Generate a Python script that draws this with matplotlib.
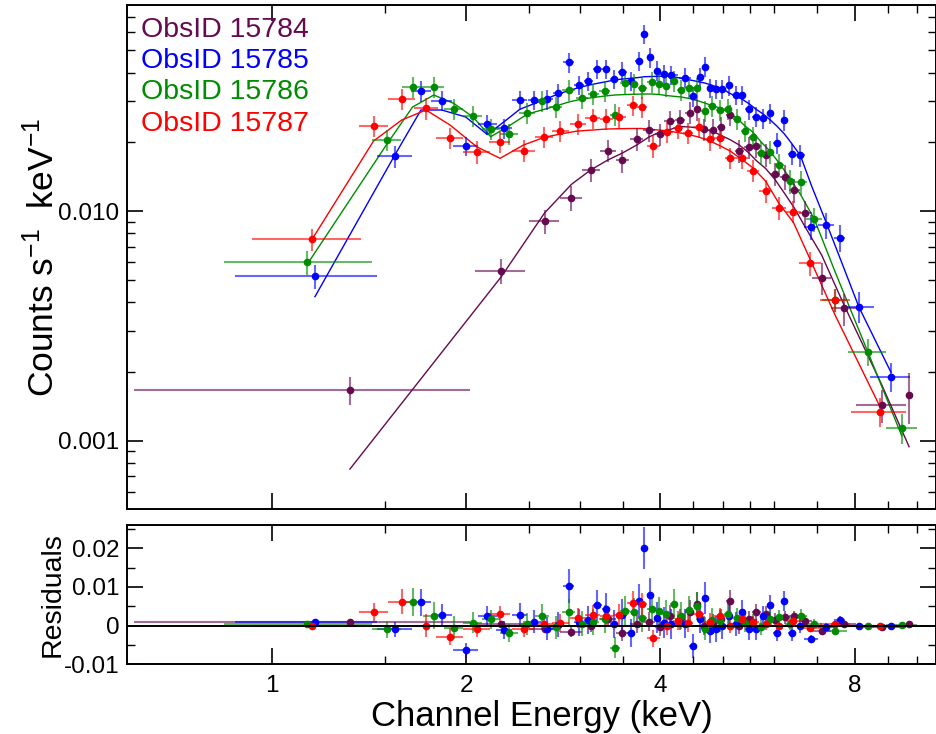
import matplotlib
matplotlib.use('Agg')
import matplotlib.pyplot as plt
from matplotlib.ticker import FixedLocator, NullFormatter, LogLocator, MultipleLocator
from matplotlib.colors import to_rgba

plt.rcParams['font.family'] = ['Liberation Sans', 'DejaVu Sans']
plt.rcParams['mathtext.fontset'] = 'custom'
plt.rcParams['mathtext.rm'] = 'Liberation Sans'
plt.rcParams['mathtext.it'] = 'Liberation Sans:italic'
plt.rcParams['mathtext.bf'] = 'Liberation Sans:bold'

# ---------------- data: ObsID 15784 (purple) ----------------
E_p = [1.322, 2.266, 2.646, 2.913, 3.120, 3.319, 3.494, 3.676, 3.840, 3.993, 4.133, 4.290, 4.440, 4.565, 4.680,
       4.830, 4.970, 5.130, 5.300, 5.480, 5.630, 5.820, 6.020, 6.230, 6.450, 6.710, 7.110, 7.700, 8.810, 9.710]
dE_p = [0.71, 0.2, 0.145, 0.115, 0.1, 0.09, 0.085, 0.085, 0.08, 0.075, 0.075, 0.075, 0.07, 0.06, 0.065,
        0.07, 0.075, 0.08, 0.085, 0.085, 0.09, 0.1, 0.1, 0.11, 0.12, 0.15, 0.25, 0.34, 0.78, 0.1]
rate_p = [0.00166, 0.0055, 0.00905, 0.01143, 0.0151, 0.0183, 0.0166, 0.0206, 0.0225, 0.0216, 0.0246, 0.0249, 0.0268,
          0.0277, 0.0227, 0.0226, 0.0231, 0.0262, 0.0183, 0.0190, 0.0192, 0.0176, 0.0145, 0.0141, 0.01234, 0.0098,
          0.00513, 0.00377, 0.00143, 0.00158]
err_p = [0.00023, 0.0007, 0.0011, 0.0014, 0.0017, 0.002, 0.0019, 0.0023, 0.0025, 0.0024, 0.0027, 0.0027, 0.0029,
         0.003, 0.0025, 0.0025, 0.0025, 0.0028, 0.0021, 0.0021, 0.0021, 0.002, 0.0017, 0.0017, 0.0015, 0.0013,
         0.0008, 0.0006, 0.00023, 0.0004]
model_p = [0.000753, 0.00516, 0.0098, 0.01307, 0.0151, 0.0167, 0.01789, 0.01938, 0.0210, 0.02208, 0.0226, 0.02333,
           0.02322, 0.02298, 0.0227, 0.02219, 0.02132, 0.02044, 0.01938, 0.01794, 0.01659, 0.01533, 0.01371,
           0.01192, 0.01031, 0.00848, 0.00643, 0.0039, 0.00175, 0.000942]
resid_p = [0.0009, 0.0003, -0.0008, -0.0016, 0, 0.0016, -0.002, 0.0004, 0.001, -0.0003, 0.0026, 0.0016, 0.0036,
           0.0056, 0, 0.0004, 0.0018, 0.0064, 0, 0.0017, 0.0034, 0.003, 0.0015, 0.0022, 0.0024, 0.0011, -0.0015,
           0.0004, -0.0004, 0.0005]

# ---------------- data: ObsID 15785 (blue) ----------------
E_b = [1.167, 1.551, 1.703, 1.834, 1.998, 2.158, 2.293, 2.423, 2.553, 2.671, 2.778, 2.885, 2.990, 3.093, 3.196,
       3.291, 3.393, 3.494, 3.598, 3.700, 3.778, 3.861, 3.952, 4.049, 4.155, 4.367, 4.490, 4.600, 4.685, 4.774,
       4.880, 4.990, 5.110, 5.230, 5.350, 5.480, 5.620, 5.770, 5.910, 6.060, 6.220, 6.390, 6.590, 6.850, 7.220,
       7.580, 8.120, 9.100]
dE_b = [0.29, 0.097, 0.06, 0.07, 0.09, 0.073, 0.066, 0.065, 0.062, 0.057, 0.053, 0.054, 0.052, 0.052, 0.05, 0.048,
        0.05, 0.052, 0.05, 0.045, 0.04, 0.043, 0.047, 0.05, 0.1, 0.1, 0.06, 0.05, 0.045, 0.05, 0.055, 0.055, 0.06,
        0.06, 0.065, 0.07, 0.07, 0.07, 0.07, 0.075, 0.08, 0.09, 0.12, 0.17, 0.2, 0.16, 0.45, 0.64]
rate_b = [0.00522, 0.01733, 0.0334, 0.0302, 0.0192, 0.0239, 0.0229, 0.0304, 0.0304, 0.0306, 0.0325, 0.0444, 0.0354,
          0.0368, 0.0415, 0.0414, 0.0376, 0.0404, 0.0368, 0.0449, 0.0588, 0.0466, 0.0408, 0.0394, 0.0390, 0.0381,
          0.0316, 0.0383, 0.0425, 0.0342, 0.0339, 0.0339, 0.0352, 0.0320, 0.0320, 0.0277, 0.0257, 0.0253, 0.0266,
          0.0198, 0.0249, 0.0177, 0.0175, 0.00855, 0.00866, 0.00765, 0.00384, 0.00190]
err_b = [0.00063, 0.0019, 0.0035, 0.003, 0.0019, 0.0024, 0.0023, 0.003, 0.003, 0.003, 0.0032, 0.0044, 0.0035, 0.0036,
         0.004, 0.004, 0.0037, 0.004, 0.0036, 0.0044, 0.0055, 0.0045, 0.004, 0.0039, 0.0038, 0.0037, 0.0031, 0.0037,
         0.0041, 0.0033, 0.0033, 0.0033, 0.0034, 0.0031, 0.0031, 0.0027, 0.0026, 0.0026, 0.0027, 0.0021, 0.0026,
         0.0019, 0.0019, 0.0011, 0.0011, 0.001, 0.00058, 0.00027]
model_b = [0.00424, 0.0175, 0.02753, 0.02753, 0.02566, 0.02153, 0.02453, 0.02773, 0.02938, 0.03092, 0.03231, 0.0334,
           0.03449, 0.03526, 0.03597, 0.03652, 0.03718, 0.03755, 0.03781, 0.03812, 0.03843, 0.0385, 0.03857, 0.03861,
           0.03857, 0.03755, 0.037, 0.03645, 0.03608, 0.03553, 0.03476, 0.03414, 0.03264, 0.03167, 0.03073, 0.02938,
           0.02781, 0.02644, 0.02502, 0.02344, 0.02171, 0.01967, 0.01745, 0.01298, 0.00896, 0.0063, 0.00382, 0.00199]
resid_b = [0.001, -0.001, 0.006, 0.0027, -0.0064, 0.0026, -0.0012, 0.0028, 0.001, -0.0008, 0.0002, 0.0102, 0.0009,
           0.0015, 0.0052, 0.0043, 0.0004, 0.0028, -0.0018, 0.0064, 0.0201, 0.0079, 0.002, 0.0008, 0.0004, 0.0005,
           -0.0053, 0.0018, 0.0072, -0.0013, -0.0009, -0.0002, 0.0026, 0.0003, 0.0035, -0.001, -0.001, 0.0024,
           0.0052, -0.002, 0.0064, -0.002, 0, -0.0034, -0.0003, 0.0014, 0, -0.0001]

# ---------------- data: ObsID 15786 (green) ----------------
E_g = [1.136, 1.507, 1.653, 1.783, 1.913, 2.048, 2.184, 2.330, 2.489, 2.622, 2.754, 2.885, 3.025, 3.150, 3.279,
       3.401, 3.527, 3.638, 3.750, 3.876, 3.986, 4.084, 4.195, 4.310, 4.435, 4.560, 4.685, 4.810, 4.950, 5.090,
       5.260, 5.410, 5.560, 5.730, 5.910, 6.110, 6.350, 6.600, 6.920, 7.460, 8.380, 9.460]
dE_g = [0.293, 0.077, 0.064, 0.065, 0.065, 0.068, 0.07, 0.076, 0.073, 0.066, 0.066, 0.066, 0.065, 0.063, 0.062,
        0.062, 0.06, 0.055, 0.06, 0.06, 0.052, 0.055, 0.057, 0.06, 0.063, 0.06, 0.062, 0.065, 0.07, 0.075, 0.08,
        0.075, 0.08, 0.085, 0.09, 0.1, 0.12, 0.14, 0.2, 0.33, 0.57, 0.52]
rate_g = [0.00598, 0.0204, 0.0346, 0.0346, 0.0277, 0.0259, 0.0227, 0.0216, 0.0268, 0.0301, 0.0284, 0.0336, 0.0312,
          0.0322, 0.0334, 0.0263, 0.0360, 0.0356, 0.0342, 0.0366, 0.0356, 0.0349, 0.0368, 0.0336, 0.0342, 0.0342,
          0.0273, 0.0286, 0.0275, 0.0279, 0.0251, 0.0223, 0.0209, 0.0179, 0.0181, 0.0159, 0.0135, 0.0134, 0.0092,
          0.0041, 0.00244, 0.00114]
err_g = [0.00069, 0.0022, 0.0036, 0.0036, 0.0029, 0.0027, 0.0024, 0.0023, 0.0028, 0.0031, 0.003, 0.0035, 0.0033,
         0.0034, 0.0035, 0.0028, 0.0037, 0.0037, 0.0036, 0.0038, 0.0037, 0.0036, 0.0038, 0.0035, 0.0036, 0.0036,
         0.0029, 0.003, 0.0029, 0.0029, 0.0026, 0.0024, 0.0022, 0.002, 0.002, 0.0018, 0.0016, 0.0016, 0.0011,
         0.00047, 0.00032, 0.00017]
model_g = [0.00588, 0.0195, 0.02837, 0.03199, 0.02944, 0.02573, 0.02106, 0.02344, 0.02644, 0.02753, 0.02865,
           0.02982, 0.03073, 0.0312, 0.03167, 0.03199, 0.03215, 0.03222, 0.03231, 0.03231, 0.03215, 0.03183,
           0.03158, 0.03136, 0.03089, 0.03027, 0.02952, 0.02879, 0.02808, 0.02698, 0.02532, 0.02344, 0.02208,
           0.01997, 0.01825, 0.01618, 0.01388, 0.01174, 0.00927, 0.00543, 0.00244, 0.00105]
resid_g = [0.0003, -0.001, 0.0062, 0.0026, -0.0005, 0.0008, 0.0016, -0.002, 0.0004, 0.0026, -0.0004, 0.0035, 0.0005,
           0.001, 0.0017, -0.0057, 0.0039, 0.0034, 0.0019, 0.0044, 0.0037, 0.0031, 0.0056, 0.0026, 0.004, 0.005,
           -0.0008, 0.0015, 0.0012, 0.003, 0.002, 0.0008, 0.0007, -0.0004, 0.0016, 0.0022, 0.0005, 0.0026, 0.0005,
           -0.0013, 0, 0.0001]

# ---------------- data: ObsID 15787 (red) ----------------
E_r = [1.153, 1.438, 1.590, 1.734, 1.889, 2.077, 2.258, 2.455, 2.645, 2.800, 2.978, 3.141, 3.298, 3.457, 3.622,
       3.744, 3.900, 4.089, 4.260, 4.420, 4.585, 4.770, 4.940, 5.130, 5.350, 5.570, 5.820, 6.100, 6.430, 6.820,
       7.460, 8.750]
dE_r = [0.22, 0.075, 0.076, 0.075, 0.09, 0.1, 0.085, 0.1, 0.085, 0.085, 0.085, 0.08, 0.078, 0.08, 0.07, 0.07, 0.09,
        0.09, 0.08, 0.08, 0.09, 0.09, 0.09, 0.1, 0.11, 0.12, 0.13, 0.15, 0.17, 0.27, 0.4, 0.87]
rate_r = [0.00753, 0.0234, 0.0307, 0.0280, 0.0208, 0.0181, 0.0199, 0.0183, 0.0211, 0.0223, 0.0240, 0.0253, 0.0252,
          0.0256, 0.0288, 0.0283, 0.0192, 0.0220, 0.0230, 0.0219, 0.0231, 0.0205, 0.0208, 0.0171, 0.0171, 0.0150,
          0.01225, 0.01031, 0.00993, 0.00592, 0.0041, 0.00134]
err_r = [0.0008, 0.0024, 0.0032, 0.003, 0.0022, 0.002, 0.0021, 0.002, 0.0022, 0.0023, 0.0025, 0.0026, 0.0026,
         0.0027, 0.003, 0.003, 0.0021, 0.0023, 0.0024, 0.0023, 0.0024, 0.0022, 0.0022, 0.0018, 0.0018, 0.0016,
         0.0014, 0.0012, 0.0011, 0.0007, 0.00048, 0.00019]
model_r = [0.00747, 0.02017, 0.0249, 0.02753, 0.02368, 0.01906, 0.01696, 0.01938, 0.02094, 0.02164, 0.0223,
           0.02252, 0.02275, 0.02282, 0.02287, 0.02287, 0.02263, 0.02236, 0.02196, 0.02153, 0.021, 0.02017,
           0.01928, 0.01825, 0.01676, 0.01539, 0.01351, 0.01083, 0.00891, 0.00618, 0.00352, 0.00141]
resid_r = [0, 0.0035, 0.0062, 0, -0.0029, -0.001, 0.003, -0.0009, 0.0005, 0.0007, 0.002, 0.0028, 0.0026, 0.0028,
           0.0059, 0.0055, -0.0033, -0.0002, 0.0013, 0.0006, 0.003, 0.001, 0.0024, 0, 0.0017, 0.001, 0.0003, 0,
           0.0012, -0.0006, 0.0004, 0]

labels = ['ObsID 15784', 'ObsID 15785', 'ObsID 15786', 'ObsID 15787']
colors = ['#660a4f', '#0000ff', '#008c00', '#ff0000']
series = [
    (E_p, dE_p, rate_p, err_p, model_p, resid_p),
    (E_b, dE_b, rate_b, err_b, model_b, resid_b),
    (E_g, dE_g, rate_g, err_g, model_g, resid_g),
    (E_r, dE_r, rate_r, err_r, model_r, resid_r),
]

x_major = [1, 2, 4, 8]
x_major_labels = ['1', '2', '4', '8']
x_minor = [1.5, 2.5, 3, 3.5, 4.5, 5, 5.5, 6, 7, 9, 10]

fig = plt.figure(figsize=(9.37, 7.34), dpi=100)
ax = fig.add_axes([0.13607, 0.30613, 0.86233, 0.68747])
axr = fig.add_axes([0.13607, 0.09496, 0.86233, 0.18978])

for (E, dE, rate, err, model, resid), col in zip(series, colors):
    ecol = to_rgba(col, 0.6)
    ax.errorbar(E, rate, xerr=dE, yerr=err, fmt='o', ms=4.5, color=col, mec=col,
                ecolor=ecol, elinewidth=1.5, capsize=0, zorder=3)
    ax.plot(E, model, color=col, lw=1.0, zorder=2)
    axr.errorbar(E, resid, xerr=dE, yerr=err, fmt='o', ms=4.5, color=col, mec=col,
                 ecolor=ecol, elinewidth=1.5, capsize=0, zorder=3)

axr.axhline(0, color='black', lw=1.4, zorder=4)

for a in (ax, axr):
    a.set_xscale('log')
    a.set_xlim(0.598, 10.67)
    a.xaxis.set_major_locator(FixedLocator(x_major))
    a.xaxis.set_minor_locator(FixedLocator(x_minor))
    a.xaxis.set_minor_formatter(NullFormatter())
    a.tick_params(which='both', direction='in', top=True, right=True, labelsize=17.5, pad=6)
    a.tick_params(which='major', length=11.5, width=1.2)
    a.tick_params(which='minor', length=5.5, width=1.0)
    for s in a.spines.values():
        s.set_linewidth(1.4)

ax.set_yscale('log')
ax.set_ylim(0.000503, 0.0791)
ax.set_yticks([0.001, 0.01], ['0.001', '0.010'])
ax.yaxis.set_minor_locator(LogLocator(base=10, subs=[2, 3, 4, 5, 6, 7, 8, 9], numticks=20))
ax.yaxis.set_minor_formatter(NullFormatter())
ax.set_xticks(x_major, [''] * 4)

axr.set_ylim(-0.00986, 0.026)
axr.set_yticks([-0.01, 0, 0.01, 0.02], ['-0.01', '0', '0.01', '0.02'])
axr.yaxis.set_minor_locator(MultipleLocator(0.005))
axr.set_xticks(x_major, x_major_labels)
axr.tick_params(axis='x', which='major', pad=8)

ax.set_ylabel(r'Counts s$^{\mathregular{-1}}$  keV$^{\mathregular{-1}}$', fontsize=25.5)
ax.yaxis.set_label_coords(-0.083, 0.5)
axr.set_ylabel('Residuals', fontsize=20.5)
axr.yaxis.set_label_coords(-0.076, 0.5)
axr.set_xlabel('Channel Energy (keV)', fontsize=25)
axr.xaxis.set_label_coords(0.513, -0.255)

ys = [0.9354, 0.8740, 0.8125, 0.7503]
for lab, col, yy in zip(labels, colors, ys):
    ax.text(0.0165, yy, lab, color=col, fontsize=20.5, transform=ax.transAxes,
            ha='left', va='baseline')

fig.savefig('out.png', dpi=100)
